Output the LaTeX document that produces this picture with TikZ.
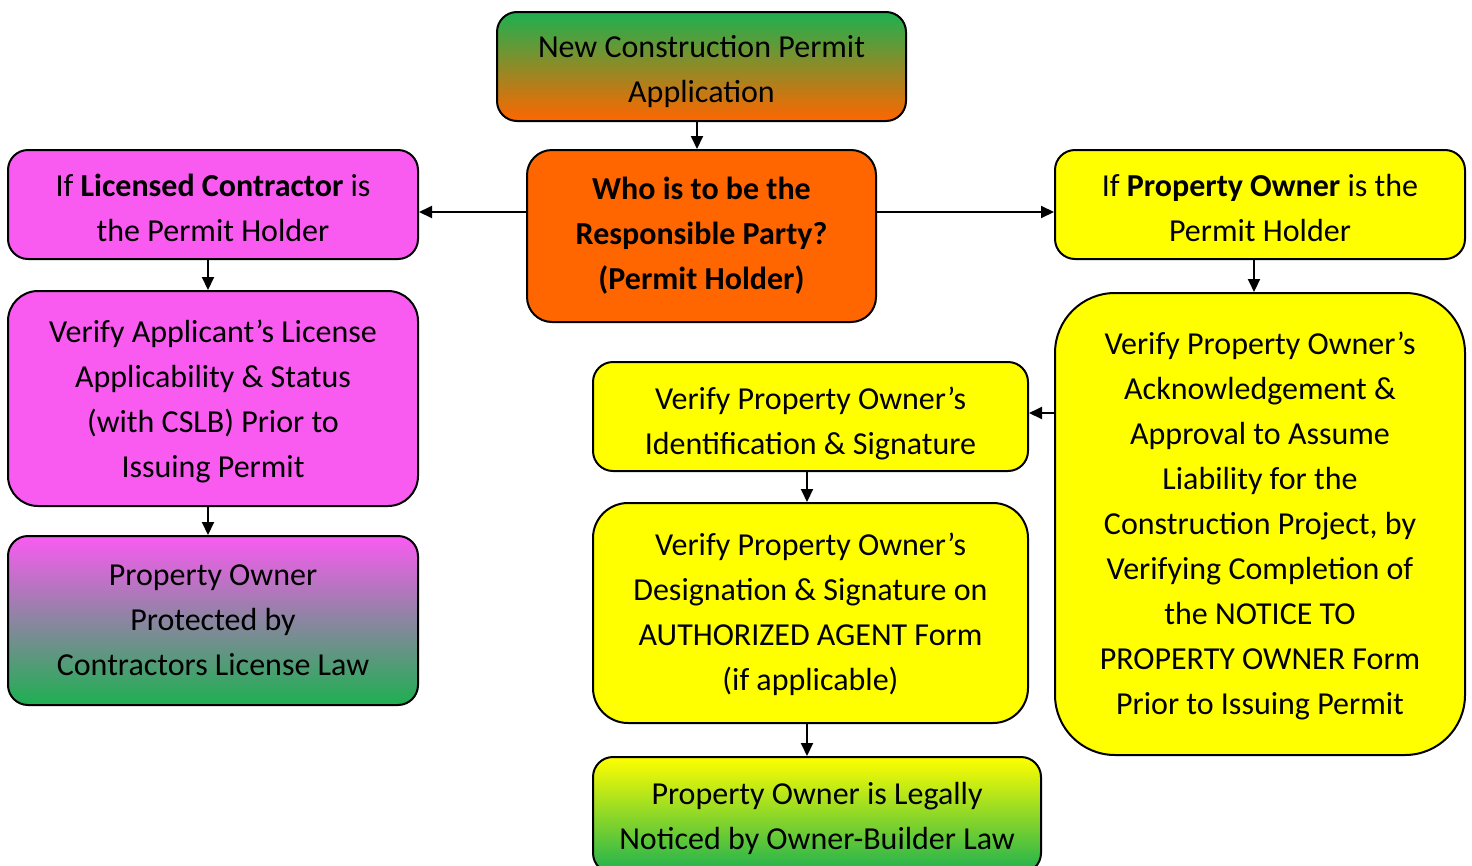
\documentclass[tikz,border=0pt]{standalone}
\usepackage{fontspec}
\setmainfont{Carlito}
\usetikzlibrary{arrows.meta}

\definecolor{pinkbox}{HTML}{F95BF1}
\definecolor{orangebox}{HTML}{FF6600}
\definecolor{yellowbox}{HTML}{FFFF00}
\definecolor{greenbox}{HTML}{1DB050}

% strut on the first line, to set the text a little lower in its box
\newcommand{\lift}[1]{\rule{0pt}{#1}}

\tikzset{
  box/.style={draw, line width=2pt, rounded corners=20pt, align=center, inner sep=0pt,
    font=\fontsize{32}{45}\selectfont},
  arr/.style={-{Triangle[length=13pt,width=12pt]}, line width=2pt}
}

\begin{document}
\begin{tikzpicture}[x=1pt,y=-1pt]
        \useasboundingbox (0,0) rectangle (1472,865);
        \clip (0,0) rectangle (1472,865);

        \node[box, top color=greenbox, bottom color=orangebox, minimum width=409pt, minimum height=109pt] (app) at (701.5,66.5) {\lift{33pt}New Construction Permit\\Application};
        \node[box, fill=orangebox, rounded corners=25pt, minimum width=349pt, minimum height=172pt, font=\fontsize{32}{45}\selectfont\bfseries] (who) at (701.5,236) {Who is to be the\\Responsible Party?\\(Permit Holder)};

        \node[box, fill=pinkbox, minimum width=410pt, minimum height=109pt] (lic) at (213,204.5) {\lift{28.5pt}If \textbf{Licensed Contractor} is\\the Permit Holder};
        \node[box, fill=pinkbox, rounded corners=30pt, minimum width=410pt, minimum height=215pt] (verlic) at (213,398.5) {\lift{28.5pt}Verify Applicant’s License\\Applicability \& Status\\(with CSLB) Prior to\\Issuing Permit};
        \node[box, top color=pinkbox, bottom color=greenbox, minimum width=410pt, minimum height=169pt] (prot) at (213,620.5) {Property Owner\\Protected by\\Contractors License Law};

        \node[box, fill=yellowbox, minimum width=410pt, minimum height=109pt] (own) at (1260,204.5) {\lift{28.5pt}If \textbf{Property Owner} is the\\Permit Holder};
        \node[box, fill=yellowbox, rounded corners=60pt, minimum width=410pt, minimum height=462pt] (verown) at (1260,524) {\lift{25.5pt}Verify Property Owner’s\\Acknowledgement \&\\Approval to Assume\\Liability for the\\Construction Project, by\\Verifying Completion of\\the NOTICE TO\\PROPERTY OWNER Form\\Prior to Issuing Permit};
        \node[box, fill=yellowbox, minimum width=435pt, minimum height=109pt] (verid) at (810.5,416.5) {\lift{36pt}Verify Property Owner’s\\Identification \& Signature};
        \node[box, fill=yellowbox, rounded corners=35pt, minimum width=435pt, minimum height=220pt] (desig) at (810.5,613) {\lift{24.5pt}Verify Property Owner’s\\Designation \& Signature on\\AUTHORIZED AGENT Form\\(if applicable)};
        \node[box, top color=yellowbox, bottom color=greenbox, minimum width=448pt, minimum height=116pt] (legal) at (817,815) {\lift{28.5pt}Property Owner is Legally\\Noticed by Owner-Builder Law};

        \draw[arr] (app.south -| 697,0) -- (who.north -| 697,0);
        \draw[arr] (who.west |- 0,212) -- (lic.east |- 0,212);
        \draw[arr] (who.east |- 0,212) -- (own.west |- 0,212);
        \draw[arr] (lic.south -| 208,0) -- (verlic.north -| 208,0);
        \draw[arr] (verlic.south -| 208,0) -- (prot.north -| 208,0);
        \draw[arr] (own.south -| 1254,0) -- (verown.north -| 1254,0);
        \draw[arr] (verown.west |- 0,413) -- (verid.east |- 0,413);
        \draw[arr] (verid.south -| 807,0) -- (desig.north -| 807,0);
        \draw[arr] (desig.south -| 807,0) -- (legal.north -| 807,0);
    \end{tikzpicture}
\end{document}
